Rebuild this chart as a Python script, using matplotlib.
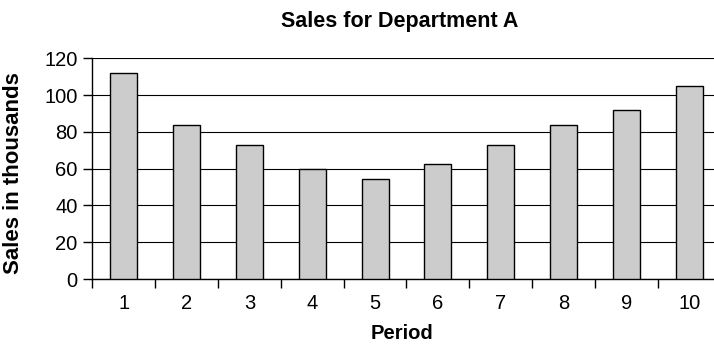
import matplotlib
import matplotlib.pyplot as plt
import numpy as np

matplotlib.pyplot.switch_backend('Agg')
plt.rcParams['font.family'] = ['Liberation Sans', 'DejaVu Sans']

# sales per period, in thousands
periods = [1, 2, 3, 4, 5, 6, 7, 8, 9, 10]
sales = [112, 83.5, 73, 60, 54.5, 62.5, 73, 84, 92, 105]

fig = plt.figure(figsize=(7.14, 3.48), dpi=100)
ax = fig.add_axes([0.1293, 0.198, 0.88, 0.6345])

x = np.array(periods)
ax.bar(x, sales, width=0.43, color='#cccccc', edgecolor='black', linewidth=1, zorder=3)

ax.set_xlim(0.5, 10.5)
ax.set_ylim(0, 120)
ax.set_yticks(np.arange(0, 121, 20))
ax.yaxis.grid(True, color='black', linewidth=0.8, zorder=0)

# category labels at centers, tick marks between categories
ax.set_xticks(x)
ax.set_xticklabels([str(p) for p in periods])
ax.set_xticks(np.arange(0.5, 11, 1), minor=True)
ax.tick_params(axis='x', which='major', length=0, pad=11, labelsize=14.5)
ax.tick_params(axis='x', which='minor', length=6.5, width=1, direction='out')
ax.tick_params(axis='y', length=6.5, width=1, direction='out', pad=4, labelsize=14.5)

for side in ['top', 'right']:
    ax.spines[side].set_visible(False)
ax.spines['left'].set_linewidth(1)
ax.spines['bottom'].set_linewidth(1)

fig.text(399.5 / 714, 1 - 26.7 / 348, 'Sales for Department A', fontsize=15.5,
         fontweight='bold', ha='center', va='baseline')
ax.set_xlabel('Period', fontsize=14.5, fontweight='bold')
ax.xaxis.set_label_coords(0.4925, -0.205)
ax.set_ylabel('Sales in thousands', fontsize=16, fontweight='bold')
ax.yaxis.set_label_coords(-0.1087, 0.4785)

plt.savefig('out.png', dpi=100)
